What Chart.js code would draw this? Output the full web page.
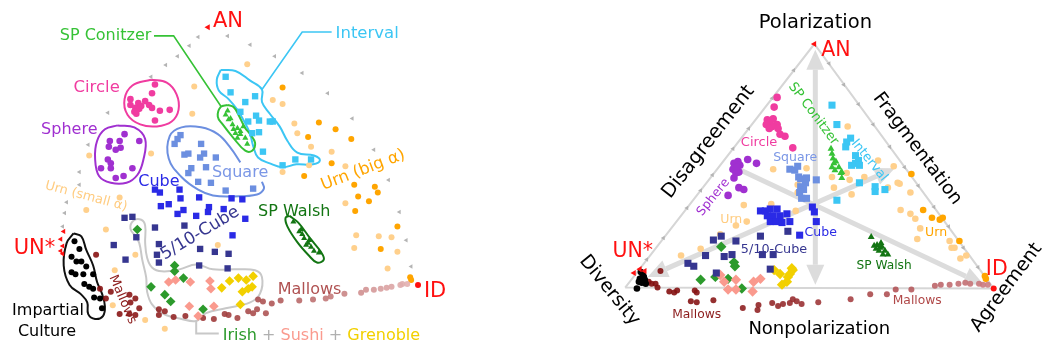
<!DOCTYPE html>
<html>
<head>
<meta charset="utf-8">
<script src="https://cdn.jsdelivr.net/npm/chart.js@4.4.1/dist/chart.umd.min.js"></script>
<style>
  body { margin: 0; background: #fff; }
  #wrap { position: relative; width: 1044px; height: 351px; }
  canvas { position: absolute; top: 0; }
  #mapChart { left: 0; }
  #compassChart { left: 520px; }
</style>
</head>
<body>
<div id="wrap">
  <canvas id="mapChart" width="520" height="351"></canvas>
  <canvas id="compassChart" width="524" height="351"></canvas>
</div>
<script>
// ---- map of elections (left) ----
const mapIC = [[71,243],[76,251],[68,259],[73,264],[78,264],[83,269],[68,275],[72,277],[80,277],[90,277],[81,287],[86,290],[90,292],[91,301],[97,302],[99,312]];
const mapUN = [[60,233],[57,241],[59,248],[57,253],[59,256]];
const mapAN = [[207,23]];
const mapID = [[421,288]];
const mapCircle = [[153,82],[150,91],[128,97],[136,101],[143,99],[147,103],[128,103],[133,106],[137,107],[132,110],[134,112],[150,106],[158,109],[168,108],[153,119],[139,104]];
const mapSphere = [[122,133],[107,140],[117,140],[118,147],[106,146],[113,149],[137,140],[105,159],[108,163],[108,168],[98,168],[130,168],[121,176],[113,178]];
const mapSquare = [[179,134],[176,138],[173,143],[200,143],[183,154],[187,153],[203,153],[199,157],[215,157],[190,168],[187,173],[205,167],[197,182],[210,183],[225,191],[253,189]];
const mapCube = [[153,190],[158,193],[178,190],[179,199],[198,198],[159,207],[167,205],[182,211],[176,215],[195,217],[208,208],[207,213],[223,210],[231,199],[242,200],[245,220],[232,237]];
const mapCube510 = [[122,219],[130,218],[153,229],[183,227],[134,239],[111,247],[123,262],[155,257],[157,265],[157,246],[199,251],[214,254],[228,256],[198,268],[227,271]];
const mapConitzer = [[225,113],[227,109],[228,118],[232,123],[233,128],[235,132],[237,127],[240,133],[243,125],[245,137],[247,143],[237,137],[230,117],[240,130]];
const mapInterval = [[225,74],[230,90],[245,100],[255,94],[240,110],[256,114],[248,120],[259,119],[270,120],[273,120],[252,132],[259,131],[263,151],[283,165],[296,159],[312,159]];
const mapWalsh = [[294,223],[300,233],[303,236],[305,240],[309,245],[307,247],[312,249],[315,253],[320,255],[302,231],[310,242]];
const mapIrish = [[135,231],[173,268],[173,274],[182,281],[149,290],[163,298],[169,305],[202,313]];
const mapSushi = [[167,285],[174,283],[189,285],[209,284],[210,292],[188,310],[197,320],[213,310]];
const mapGrenoble = [[229,284],[238,281],[246,283],[253,279],[221,291],[242,295],[248,292],[240,308],[252,290]];
const mapMallows = [[93,257],[97,292],[108,295],[103,302],[127,298],[133,302],[128,306],[137,312],[117,318],[127,318],[133,319],[157,313],[163,315],[157,319],[172,321],[184,320],[202,322],[213,323],[224,318],[228,319],[237,322],[248,315],[253,317],[257,313],[258,303],[263,305],[266,317],[272,307],[281,304],[300,304],[314,303],[327,302],[332,300],[346,297],[363,296],[368,293],[376,293],[383,292],[389,291],[394,290],[403,288],[405,287],[410,287]];
const mapUrnBig = [[283,85],[320,121],[337,128],[309,136],[353,138],[333,163],[305,176],[356,185],[377,187],[380,193],[360,197],[371,202],[357,212],[400,228],[383,251],[413,280],[414,283]];
const mapUrnSmall = [[247,61],[273,98],[283,102],[295,122],[298,132],[312,146],[333,151],[347,166],[310,165],[283,172],[347,204],[358,237],[381,238],[394,239],[356,250],[400,254],[390,271],[193,84],[191,112],[86,155],[149,153],[117,198],[83,211],[103,231],[133,257],[112,273],[110,309],[143,324],[163,333],[217,247]];
const mapPathANUN = [[197,33],[188,42],[176,53],[164,62],[149,74],[105,111],[85,144],[76,172],[76,185],[63,203],[61,214],[59,228]];
const mapPathANID = [[227,32],[250,41],[275,53],[303,70],[329,91],[354,117],[376,149],[391,180],[402,213],[409,242],[414,269]];

// hand drawn outlines and leader lines of the map
const outlineIC = [[70,235],[63,245],[60,268],[66,288],[78,298],[84,306],[85,318],[92,323],[100,320],[102,310],[99,297],[94,285],[90,268],[83,252],[78,238],[70,235]];
const outlineCircle = [[149,77],[165,80],[175,92],[177,108],[170,120],[155,125],[138,123],[125,113],[122,97],[130,83],[149,77]];
const outlineSphere = [[115,124],[132,126],[143,138],[141,160],[135,175],[124,183],[108,183],[96,176],[92,158],[94,140],[102,128],[115,124]];
const outlineSquare = [[240,162],[230,147],[217,133],[200,126],[180,126],[168,135],[167,158],[180,177],[197,190],[212,196],[233,197],[257,195],[264,189],[262,182]];
const outlineConitzer = [[227,103],[220,105],[217,115],[222,123],[233,137],[245,150],[252,150],[255,142],[250,133],[245,127],[238,113],[233,105],[227,103]];
const leaderConitzer = [[152,32],[172,32],[220,104]];
const outlineInterval = [[220,67],[235,68],[250,78],[262,87],[262,100],[270,112],[280,125],[288,140],[298,152],[315,155],[321,160],[314,164],[297,164],[283,167],[270,163],[258,157],[253,145],[250,133],[245,122],[237,108],[228,97],[218,88],[216,77],[220,67]];
const leaderInterval = [[333,28],[303,28],[262,87]];
const outlineWalsh = [[290,217],[299,224],[311,240],[322,254],[325,262],[318,265],[310,258],[298,244],[288,228],[286,219],[290,217]];
const outlineOrdinal = [[133,238],[128,230],[131,222],[139,221],[143,227],[143,245],[145,260],[150,270],[160,274],[178,272],[195,267],[212,272],[235,272],[255,273],[262,280],[260,297],[250,306],[225,312],[205,317],[195,325],[180,323],[162,318],[150,308],[145,295],[144,280],[140,262],[137,245],[133,238]];
const leaderOrdinal = [[195,325],[195,338],[218,338]];

// ---- compass (right) ----
const compassTriangle = [[622,291],[815,40],[998,292],[622,291]];
const compassIC = [[638,275],[640,278],[637,282],[642,283],[639,286],[636,285],[643,287],[634,292],[641,280]];
const compassUN = [[631,276],[637,272],[642,274]];
const compassAN = [[815,40]];
const compassID = [[998,292]];
const compassCircle = [[777,95],[774,105],[767,118],[770,120],[773,117],[777,123],[772,125],[766,123],[778,127],[769,127],[780,133],[785,135],[793,147]];
const compassSphere = [[737,161],[733,163],[739,165],[747,159],[756,163],[732,169],[735,173],[733,178],[738,172],[738,188],[743,190],[727,196],[736,167]];
const compassSquare = [[790,169],[795,170],[798,166],[799,177],[801,179],[807,178],[817,180],[801,187],[804,190],[800,193],[802,199],[807,199],[806,183]];
const compassCube = [[760,212],[765,212],[770,210],[777,210],[767,217],[773,217],[780,217],[770,223],[776,223],[782,224],[787,215],[790,223],[813,208],[815,213],[817,223],[800,237]];
const compassCube510 = [[712,242],[720,238],[735,243],[760,238],[704,258],[723,259],[731,257],[762,257],[773,257],[686,266],[692,269],[715,276],[770,272],[788,233]];
const compassUrnSmall = [[773,169],[807,168],[798,185],[798,193],[796,212],[743,206],[771,205],[735,227],[746,223],[719,236],[699,251],[679,258],[849,125],[848,173],[835,188],[853,195],[851,180],[880,160],[896,166],[900,183],[903,211],[913,215],[918,220],[913,193],[923,230],[920,241],[953,243],[955,250],[958,250],[964,261],[970,258],[833,177],[866,177],[890,188],[902,184]];
const compassUrnBig = [[914,174],[926,211],[935,219],[946,219],[943,221],[963,243],[990,282],[989,279]];
const compassConitzer = [[832,148],[833,153],[834,158],[835,163],[837,161],[833,167],[836,170],[842,173],[843,178],[840,167],[843,172]];
const compassInterval = [[833,103],[838,123],[852,137],[848,141],[847,146],[857,155],[860,160],[853,165],[857,163],[861,165],[861,183],[877,187],[877,192],[887,190],[838,201]];
const compassWalsh = [[873,239],[876,248],[879,247],[882,250],[884,249],[887,253],[890,257],[885,257],[878,251],[881,253],[883,245]];
const compassIrish = [[720,249],[733,265],[734,269],[699,283],[714,280],[727,282],[741,292]];
const compassSushi = [[719,278],[735,283],[753,285],[760,282],[727,293],[735,293],[752,295],[723,285]];
const compassGrenoble = [[774,273],[780,277],[788,280],[793,273],[787,285],[782,288],[790,277],[792,271]];
const compassMallows = [[658,274],[646,285],[649,287],[653,287],[655,291],[667,295],[672,296],[675,294],[693,294],[695,296],[689,305],[695,306],[712,304],[742,312],[758,309],[757,314],[772,307],[778,310],[783,308],[790,307],[793,303],[797,305],[802,308],[819,306],[852,303],[872,298],[889,298],[898,293],[914,293],[938,289],[944,288],[953,288],[962,287],[969,286],[974,287],[983,287],[987,288],[992,288]];
const compassPathANUN = [[794,67],[772,96],[748,127],[732,148],[711,175],[699,191],[685,209],[661,240],[644,262]];
const compassPathANID = [[830,60],[845,82],[860,102],[875,123],[892,146],[907,167],[921,186],[937,208],[952,228],[967,250],[982,270]];
const polarizationArrow = [[816,46],[816,288]];
const diversityArrow = [[645,280],[897,168]];
const agreementArrow = [[740,170],[988,288]];

const FONT = '"DejaVu Sans", Verdana, sans-serif';
const RED = "#ff1010";
const COLORS = {
    conitzer: "#36c236",
    interval: "#3cc6f4",
    circle: "#f03ca0",
    sphere: "#a030d0",
    square: "#6c8fe0",
    squareText: "#7b97e6",
    cube: "#2a2ae6",
    cube510: "#363690",
    urnBig: "#ffa500",
    urnSmall: "#ffd08c",
    urnSmallText: "#ffcc80",
    walsh: "#137513",
    irish: "#2c9a2c",
    sushi: "#fa9a8e",
    grenoble: "#f2d000",
    marker: "#b4b4b4",
    ordinal: "#c8c8c8",
    compassLine: "#dcdcdc",
};

const toXY = (arr) => arr.map(([x, y]) => ({ x, y }));

function pointSet(data, color, style, radius, rotation = 0) {
    return {
        data: toXY(data),
        backgroundColor: color,
        borderWidth: 0,
        pointStyle: style,
        pointRadius: radius,
        rotation,
        clip: false,
        order: 1,
    };
}

function pathSet(data, color, width, tension = 0.4) {
    return {
        data: toXY(data),
        showLine: true,
        borderColor: color,
        borderWidth: width,
        pointRadius: 0,
        tension,
        fill: false,
        clip: false,
        order: 2,
    };
}

function mallowsShade(x, from, to, dark, light) {
    const t = Math.pow(Math.min(1, Math.max(0, (x - from) / (to - from))), 1.4);
    const c = dark.map((v, i) => Math.round(v + (light[i] - v) * t));
    return `rgba(${c[0]},${c[1]},${c[2]},0.9)`;
}

const labelPlugin = {
    id: "chartLabels",
    afterDatasetsDraw(chart, args, opts) {
        const { ctx } = chart;
        const xs = chart.scales.x;
        const ys = chart.scales.y;
        for (const item of opts.items || []) {
            ctx.save();
            ctx.translate(xs.getPixelForValue(item.x), ys.getPixelForValue(item.y));
            if (item.angle) ctx.rotate((item.angle * Math.PI) / 180);
            ctx.font = `${item.size}px ${FONT}`;
            ctx.textAlign = item.align || "left";
            ctx.textBaseline = item.angle ? "middle" : "alphabetic";
            if (item.parts) {
                let offset = 0;
                for (const [text, color] of item.parts) {
                    ctx.fillStyle = color;
                    ctx.fillText(text, offset, 0);
                    offset += ctx.measureText(text).width;
                }
            } else {
                ctx.fillStyle = item.color;
                ctx.fillText(item.text, 0, 0);
            }
            ctx.restore();
        }
    },
};

const arrowPlugin = {
    id: "compassArrows",
    beforeDatasetsDraw(chart, args, opts) {
        if (!opts.items) return;
        const { ctx } = chart;
        const xs = chart.scales.x;
        const ys = chart.scales.y;
        const h = opts.headLength;
        const w = opts.headWidth;
        ctx.save();
        ctx.strokeStyle = opts.color;
        ctx.fillStyle = opts.color;
        ctx.lineWidth = opts.width;
        for (const arrow of opts.items) {
            const [a, b] = arrow.ends;
            const x1 = xs.getPixelForValue(a[0]);
            const y1 = ys.getPixelForValue(a[1]);
            const x2 = xs.getPixelForValue(b[0]);
            const y2 = ys.getPixelForValue(b[1]);
            const len = Math.hypot(x2 - x1, y2 - y1);
            const ux = (x2 - x1) / len;
            const uy = (y2 - y1) / len;
            const startHead = arrow.heads === "both";
            ctx.beginPath();
            ctx.moveTo(startHead ? x1 + ux * h : x1, startHead ? y1 + uy * h : y1);
            ctx.lineTo(x2 - ux * h, y2 - uy * h);
            ctx.stroke();
            const heads = startHead ? [[x2, y2, ux, uy], [x1, y1, -ux, -uy]] : [[x2, y2, ux, uy]];
            for (const [tx, ty, dx, dy] of heads) {
                const bx = tx - dx * h;
                const by = ty - dy * h;
                ctx.beginPath();
                ctx.moveTo(tx, ty);
                ctx.lineTo(bx - dy * w, by + dx * w);
                ctx.lineTo(bx + dy * w, by - dx * w);
                ctx.closePath();
                ctx.fill();
            }
        }
        ctx.restore();
    },
};

function makeChart(id, xRange, datasets, labels, arrows) {
    return new Chart(document.getElementById(id), {
        type: "scatter",
        data: { datasets },
        options: {
            responsive: false,
            animation: false,
            devicePixelRatio: 1,
            events: [],
            layout: { padding: 0 },
            scales: {
                x: { type: "linear", min: xRange[0], max: xRange[1], display: false },
                y: { type: "linear", min: 0, max: 351, reverse: true, display: false },
            },
            plugins: {
                legend: { display: false },
                tooltip: { enabled: false },
                chartLabels: { items: labels },
                compassArrows: arrows || {},
            },
        },
        plugins: [labelPlugin, arrowPlugin],
    });
}

const mapMallowsSet = pointSet(mapMallows, "#900", "circle", 3);
mapMallowsSet.backgroundColor = (ctx) => mallowsShade(ctx.raw ? ctx.raw.x : 0, 95, 415, [135, 18, 18], [228, 180, 180]);

const compassMallowsSet = pointSet(compassMallows, "#900", "circle", 3);
compassMallowsSet.backgroundColor = (ctx) => mallowsShade(ctx.raw ? ctx.raw.x : 0, 645, 995, [130, 14, 14], [205, 125, 130]);

const mapDatasets = [
    pointSet(mapAN, RED, "triangle", 3.5, -90),
    pointSet(mapUN, RED, "triangle", 3, -90),
    pointSet(mapID, RED, "circle", 3),
    pointSet(mapIC, "#000", "circle", 3),
    pointSet(mapWalsh, COLORS.walsh, "triangle", 3.5),
    pointSet(mapConitzer, COLORS.conitzer, "triangle", 3.5),
    pointSet(mapInterval, COLORS.interval, "rect", 4.5),
    pointSet(mapCircle, COLORS.circle, "circle", 3.3),
    pointSet(mapSphere, COLORS.sphere, "circle", 3.3),
    pointSet(mapSquare, COLORS.square, "rect", 4.5),
    pointSet(mapCube, COLORS.cube, "rect", 4.5),
    pointSet(mapCube510, COLORS.cube510, "rect", 4.5),
    pointSet(mapGrenoble, COLORS.grenoble, "rectRot", 4.8),
    pointSet(mapSushi, COLORS.sushi, "rectRot", 4.8),
    pointSet(mapIrish, COLORS.irish, "rectRot", 4.8),
    mapMallowsSet,
    pointSet(mapUrnBig, COLORS.urnBig, "circle", 3),
    pointSet(mapUrnSmall, COLORS.urnSmall, "circle", 3),
    pointSet(mapPathANUN, COLORS.marker, "triangle", 2.6, -90),
    pointSet(mapPathANID, COLORS.marker, "triangle", 2.6, -90),
    pathSet(outlineIC, "#111", 2),
    pathSet(outlineCircle, COLORS.circle, 2),
    pathSet(outlineSphere, COLORS.sphere, 2),
    pathSet(outlineSquare, COLORS.square, 2),
    pathSet(outlineConitzer, COLORS.conitzer, 2),
    pathSet(leaderConitzer, COLORS.conitzer, 1.6, 0),
    pathSet(outlineInterval, COLORS.interval, 2),
    pathSet(leaderInterval, COLORS.interval, 1.6, 0),
    pathSet(outlineWalsh, COLORS.walsh, 2),
    pathSet(outlineOrdinal, COLORS.ordinal, 2),
    pathSet(leaderOrdinal, COLORS.ordinal, 2, 0),
];

const mapLabels = [
    { text: "AN", x: 212, y: 23, color: RED, size: 21 },
    { text: "SP Conitzer", x: 56, y: 36, color: COLORS.conitzer, size: 16 },
    { text: "Interval", x: 337, y: 34, color: COLORS.interval, size: 16.5 },
    { text: "Circle", x: 70, y: 90, color: COLORS.circle, size: 16.5 },
    { text: "Sphere", x: 37, y: 133, color: COLORS.sphere, size: 16 },
    { text: "Square", x: 211, y: 177, color: COLORS.squareText, size: 16 },
    { text: "Cube", x: 136, y: 186, color: COLORS.cube, size: 16 },
    { text: "5/10-Cube", x: 199, y: 235, color: COLORS.cube510, size: 17, angle: -31, align: "center" },
    { text: "Urn (small α)", x: 83, y: 197, color: COLORS.urnSmallText, size: 13, angle: 15, align: "center" },
    { text: "Urn (big α)", x: 365, y: 170, color: COLORS.urnBig, size: 16.5, angle: -21, align: "center" },
    { text: "SP Walsh", x: 258, y: 217, color: COLORS.walsh, size: 16 },
    { text: "UN*", x: 9, y: 256, color: RED, size: 21 },
    { text: "Mallows", x: 120, y: 303, color: "#8c1c1c", size: 13, angle: 67, align: "center" },
    { text: "Impartial", x: 44, y: 319, color: "#000", size: 16, align: "center" },
    { text: "Culture", x: 43, y: 340, color: "#000", size: 16, align: "center" },
    { text: "Mallows", x: 278, y: 297, color: "#b05252", size: 16 },
    { text: "ID", x: 427, y: 300, color: RED, size: 21 },
    {
        parts: [["Irish", COLORS.irish], [" + ", "#b0b0b0"], ["Sushi", COLORS.sushi], [" + ", "#b0b0b0"], ["Grenoble", COLORS.grenoble]],
        x: 222, y: 345, size: 16,
    },
];

const compassDatasets = [
    pointSet(compassAN, RED, "triangle", 3.5, -90),
    pointSet(compassUN, RED, "triangle", 3.5, -90),
    pointSet(compassID, RED, "circle", 3),
    pointSet(compassIC, "#000", "circle", 3.3),
    pointSet(compassWalsh, COLORS.walsh, "triangle", 4),
    pointSet(compassConitzer, COLORS.conitzer, "triangle", 4),
    pointSet(compassInterval, COLORS.interval, "rect", 5),
    pointSet(compassCircle, COLORS.circle, "circle", 3.8),
    pointSet(compassSphere, COLORS.sphere, "circle", 3.8),
    pointSet(compassSquare, COLORS.square, "rect", 5),
    pointSet(compassCube, COLORS.cube, "rect", 5),
    pointSet(compassCube510, COLORS.cube510, "rect", 5),
    pointSet(compassGrenoble, COLORS.grenoble, "rectRot", 5.2),
    pointSet(compassSushi, COLORS.sushi, "rectRot", 5.2),
    pointSet(compassIrish, COLORS.irish, "rectRot", 5.2),
    compassMallowsSet,
    pointSet(compassUrnBig, COLORS.urnBig, "circle", 3.3),
    pointSet(compassUrnSmall, COLORS.urnSmall, "circle", 3.3),
    pointSet(compassPathANUN, COLORS.marker, "triangle", 2.6, -90),
    pointSet(compassPathANID, COLORS.marker, "triangle", 2.6, -90),
    pathSet(compassTriangle, "#d6d6d6", 2, 0),
];

const compassLabels = [
    { text: "Polarization", x: 816, y: 24, color: "#000", size: 19.5, align: "center" },
    { text: "Nonpolarization", x: 820, y: 339, color: "#000", size: 18, align: "center" },
    { text: "Disagreement", x: 707, y: 141, color: "#000", size: 19.5, angle: -52, align: "center" },
    { text: "Fragmentation", x: 920, y: 148, color: "#000", size: 18.5, angle: 53, align: "center" },
    { text: "Diversity", x: 606, y: 294, color: "#000", size: 19, angle: 51, align: "center" },
    { text: "Agreement", x: 1011, y: 291, color: "#000", size: 19, angle: -53, align: "center" },
    { text: "AN", x: 822, y: 52, color: RED, size: 20.5 },
    { text: "UN*", x: 609, y: 260, color: RED, size: 20.5 },
    { text: "ID", x: 990, y: 278, color: RED, size: 20.5 },
    { text: "Circle", x: 740, y: 145, color: COLORS.circle, size: 13 },
    { text: "Square", x: 773, y: 161, color: COLORS.squareText, size: 12.5 },
    { text: "SP Conitzer", x: 814, y: 112, color: COLORS.conitzer, size: 13, angle: 53, align: "center" },
    { text: "Interval", x: 871, y: 160, color: COLORS.interval, size: 13, angle: 51, align: "center" },
    { text: "Sphere", x: 712, y: 198, color: COLORS.sphere, size: 12.5, angle: -51, align: "center" },
    { text: "Urn", x: 719, y: 224, color: COLORS.urnSmallText, size: 12.5 },
    { text: "Cube", x: 805, y: 238, color: COLORS.cube, size: 12.5 },
    { text: "5/10-Cube", x: 740, y: 255, color: COLORS.cube510, size: 12.8 },
    { text: "Urn", x: 928, y: 238, color: COLORS.urnBig, size: 12.5 },
    { text: "SP Walsh", x: 858, y: 272, color: COLORS.walsh, size: 12.2 },
    { text: "Mallows", x: 895, y: 308, color: "#b04848", size: 12.3 },
    { text: "Mallows", x: 670, y: 322, color: "#8c1c1c", size: 12.3 },
];

const compassArrows = {
    color: COLORS.compassLine,
    width: 5,
    headLength: 20,
    headWidth: 9,
    items: [
        { ends: polarizationArrow, heads: "both" },
        { ends: diversityArrow, heads: "both" },
        { ends: agreementArrow, heads: "end" },
    ],
};

makeChart("mapChart", [0, 520], mapDatasets, mapLabels);
makeChart("compassChart", [520, 1044], compassDatasets, compassLabels, compassArrows);
</script>
</body>
</html>
